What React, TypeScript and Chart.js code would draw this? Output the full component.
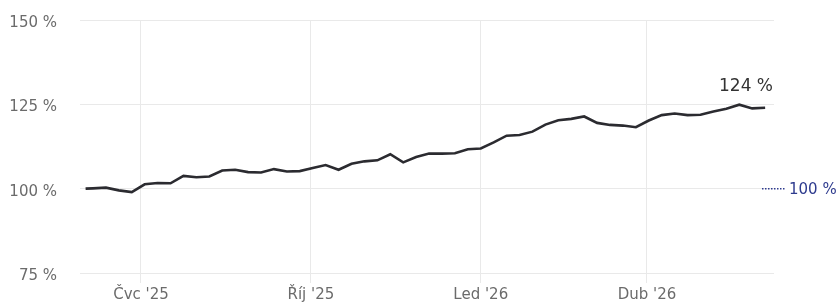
import React, { useEffect, useRef } from "react";
import { Chart, registerables } from "chart.js";

Chart.register(...registerables);

// Days counted from 2025-06-01
const dayOffsets: number[] = [
  0, 4, 11, 18, 25, 32, 39, 46, 53, 60, 67, 74, 81, 88, 95, 102, 109, 116, 123, 130,
  137, 144, 151, 158, 165, 172, 179, 186, 193, 200, 207, 214, 221, 228, 235, 242,
  249, 256, 263, 270, 277, 284, 291, 298, 305, 312, 319, 326, 333, 340, 347, 354,
  361, 368,
];

const values: number[] = [
  100.0, 100.1, 100.3, 99.5, 99.0, 101.3, 101.7, 101.6, 103.8, 103.4, 103.6,
  105.4, 105.6, 104.9, 104.8, 105.8, 105.1, 105.2, 106.1, 107.0, 105.6, 107.4,
  108.1, 108.4, 110.2, 107.8, 109.4, 110.4, 110.4, 110.5, 111.7, 111.9, 113.7,
  115.7, 115.9, 116.9, 119.0, 120.3, 120.7, 121.4, 119.5, 118.9, 118.7, 118.2,
  120.2, 121.8, 122.3, 121.8, 121.9, 122.9, 123.7, 124.9, 123.8, 124.0,
];

const monthTickDays: number[] = [30, 122, 214, 304];
const monthTickLabels: string[] = ["Čvc '25", "Říj '25", "Led '26", "Dub '26"];
const yTicks: number[] = [75, 100, 125, 150];
const baselineValue = 100;
const lastLabel = "124 %";

const FONT = "'DejaVu Sans', sans-serif";

const overlayPlugin = {
  id: "overlay",
  afterDatasetsDraw(chart: any) {
    const ctx = chart.ctx;
    const area = chart.chartArea;
    const meta = chart.getDatasetMeta(0);
    const last = meta.data[meta.data.length - 1];
    const yScale = chart.scales.y;
    ctx.save();
    ctx.font = `17px ${FONT}`;
    ctx.fillStyle = "#333333";
    ctx.textAlign = "right";
    ctx.textBaseline = "middle";
    ctx.fillText(lastLabel, area.right - 1, last.y - 21);
    const by = yScale.getPixelForValue(baselineValue);
    ctx.strokeStyle = "#2e3b8e";
    ctx.lineWidth = 1.5;
    ctx.setLineDash([1.5, 1.5]);
    ctx.beginPath();
    ctx.moveTo(area.right - 12, by);
    ctx.lineTo(area.right + 11, by);
    ctx.stroke();
    ctx.setLineDash([]);
    ctx.font = `15px ${FONT}`;
    ctx.fillStyle = "#2e3b8e";
    ctx.textAlign = "left";
    ctx.fillText(`${baselineValue} %`, area.right + 15, by + 1);
    ctx.restore();
  },
};

export default function App() {
  const ref = useRef<HTMLCanvasElement | null>(null);
  useEffect(() => {
    if (!ref.current) return;
    const chart = new Chart(ref.current, {
      type: "line",
      data: {
        datasets: [
          {
            data: dayOffsets.map((d, i) => ({ x: d, y: values[i] })),
            borderColor: "#2b2b30",
            borderWidth: 2.6,
            pointRadius: 0,
            tension: 0,
            fill: false,
          },
        ],
      },
      options: {
        animation: false,
        responsive: false,
        maintainAspectRatio: false,
        layout: { padding: { top: 20, right: 63, left: 0, bottom: 0 } },
        plugins: { legend: { display: false }, tooltip: { enabled: false } },
        scales: {
          x: {
            type: "linear",
            min: -3.03,
            max: 372.8,
            border: { display: false },
            grid: { color: "#e9e9e9", lineWidth: 1, drawTicks: true, tickLength: 10 },
            afterBuildTicks: (scale: any) => {
              scale.ticks = monthTickDays.map((v) => ({ value: v }));
            },
            afterFit: (scale: any) => {
              scale.height = 29;
            },
            ticks: {
              autoSkip: false,
              maxRotation: 0,
              padding: 3,
              color: "#6b6b6b",
              font: { family: FONT, size: 15 },
              callback: (_v: any, i: number) => monthTickLabels[i],
            },
          },
          y: {
            min: 75,
            max: 150,
            border: { display: false },
            grid: {
              color: "#e9e9e9",
              lineWidth: 1,
              drawTicks: true,
              tickLength: 23,
              tickColor: "rgba(0,0,0,0)",
            },
            afterBuildTicks: (scale: any) => {
              scale.ticks = yTicks.map((v) => ({ value: v }));
            },
            afterFit: (scale: any) => {
              scale.width = 80;
            },
            ticks: {
              padding: 0,
              labelOffset: 3,
              color: "#6b6b6b",
              font: { family: FONT, size: 15 },
              callback: (v: any) => `${v} %`,
            },
          },
        },
      },
      plugins: [overlayPlugin],
    });
    return () => chart.destroy();
  }, []);
  return (
    <div style={{ position: "absolute", left: 0, top: 0, width: 837, height: 302, background: "#fff" }}>
      <canvas ref={ref} width={837} height={302} style={{ display: "block", width: 837, height: 302 }} />
    </div>
  );
}
